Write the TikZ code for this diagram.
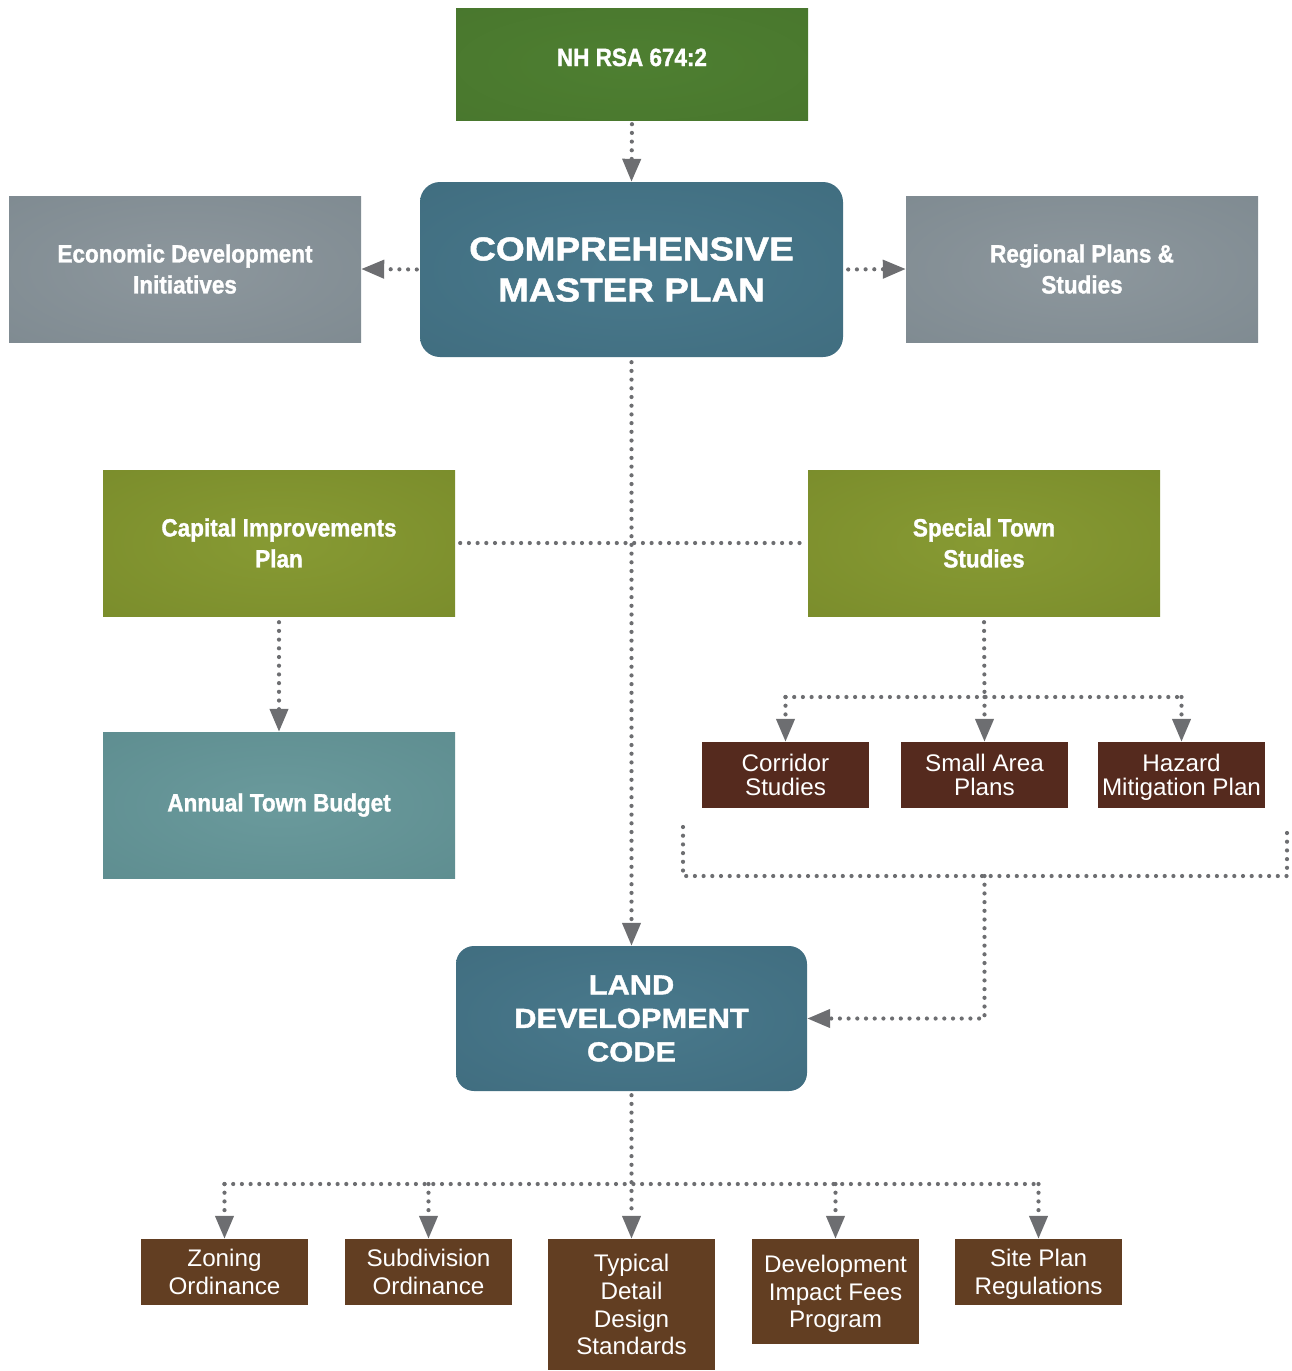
\documentclass[tikz,border=0pt]{standalone}
\usepackage{fontspec}
\setmainfont{Liberation Sans}
\newfontfamily\condf[FakeStretch=0.9,BoldFeatures={FakeBold=1.3}]{Liberation Sans}
\newfontfamily\heavyf[FakeStretch=1.12,BoldFeatures={FakeBold=1.4}]{Liberation Sans}
\newfontfamily\lightf[FakeStretch=1.01]{Liberation Sans}
\usetikzlibrary{arrows.meta}
\definecolor{nhin}{HTML}{4E7F31}
\definecolor{nhout}{HTML}{47742C}
\definecolor{cmpin}{HTML}{49798C}
\definecolor{cmpout}{HTML}{3D697B}
\definecolor{grayin}{HTML}{8D979D}
\definecolor{grayout}{HTML}{7A868D}
\definecolor{olivein}{HTML}{879A33}
\definecolor{oliveout}{HTML}{768829}
\definecolor{budin}{HTML}{6A9A9C}
\definecolor{budout}{HTML}{5A898C}
\definecolor{darkbrown}{HTML}{552A1E}
\definecolor{midbrown}{HTML}{623E22}
\definecolor{arrgray}{HTML}{6D6E71}
\pgfdeclareradialshading{nhshade}{\pgfpoint{0bp}{0bp}}{color(0bp)=(nhin);color(50bp)=(nhout)}
\pgfdeclareradialshading{cmpshade}{\pgfpoint{0bp}{0bp}}{color(0bp)=(cmpin);color(50bp)=(cmpout)}
\pgfdeclareradialshading{grayshade}{\pgfpoint{0bp}{0bp}}{color(0bp)=(grayin);color(50bp)=(grayout)}
\pgfdeclareradialshading{oliveshade}{\pgfpoint{0bp}{0bp}}{color(0bp)=(olivein);color(50bp)=(oliveout)}
\pgfdeclareradialshading{budshade}{\pgfpoint{0bp}{0bp}}{color(0bp)=(budin);color(50bp)=(budout)}
\begin{document}
\begin{tikzpicture}[x=1pt,y=-1pt,
  basebox/.style={inner sep=0pt, align=center, text=white},
  widebox/.style={basebox, minimum width=352pt, minimum height=146pt},
  condtext/.style={font={\condf\bfseries\fontsize{25}{31}\selectfont}},
  heavytext/.style={font={\heavyf\bfseries\fontsize{33}{41}\selectfont}},
  ldctext/.style={font={\heavyf\bfseries\fontsize{27.5}{33.5}\selectfont}},
  lighttext/.style={font={\lightf\fontsize{24}{23.5}\selectfont}},
  lighttextb/.style={font={\lightf\fontsize{24}{27.7}\selectfont}},
  graybox/.style={widebox, shading=grayshade, condtext},
  olivebox/.style={widebox, shading=oliveshade, condtext},
  smallbox/.style={basebox, minimum width=167pt, minimum height=66pt, fill=darkbrown, lighttext,
                   text depth=0pt},
  botbox/.style={basebox, minimum width=167pt, fill=midbrown, lighttextb, text depth=0pt},
  dotline/.style={draw=arrgray, line width=4.2pt, line cap=round, dash pattern=on 0pt off 8.7pt},
  arrowed/.style={dotline, -{Triangle[length=23pt,width=18pt]}, arrgray},
]
\useasboundingbox (0,0) rectangle (1292,1371);

% nodes
\node[basebox, minimum width=352pt, minimum height=112pt, shading=nhshade,
      condtext, text height=18pt, text depth=14pt] (nh) at (632,64) {NH RSA 674:2};
\node[basebox, minimum width=423pt, minimum height=175pt, rounded corners=20pt, shading=cmpshade,
      heavytext] (cmp) at (631.5,269.5) {COMPREHENSIVE\\MASTER PLAN};
\node[graybox] (econ) at (185,269) {Economic Development\\Initiatives};
\node[graybox] (reg) at (1082,269) {Regional Plans \&\\Studies};
\node[olivebox] (cap) at (279,543) {Capital Improvements\\Plan};
\node[olivebox] (spec) at (984,543) {Special Town\\Studies};
\node[widebox, shading=budshade, condtext] (bud) at (279,805) {Annual Town Budget};
\node[smallbox] (corr) at (785.5,775) {Corridor\\Studies};
\node[smallbox] (small) at (984.5,775) {Small Area\\Plans};
\node[smallbox] (haz) at (1181.5,775) {Hazard\\Mitigation Plan};
\node[basebox, minimum width=351pt, minimum height=145pt, rounded corners=18pt, shading=cmpshade,
      ldctext] (ldc) at (631.5,1018.5) {LAND\\DEVELOPMENT\\CODE};
\node[botbox, minimum height=66pt] (zon) at (224.5,1272) {Zoning\\Ordinance};
\node[botbox, minimum height=66pt] (sub) at (428.5,1272) {Subdivision\\Ordinance};
\node[botbox, minimum height=131pt] (typ) at (631.5,1304.5) {Typical\\Detail\\Design\\Standards};
\node[botbox, minimum height=105pt] (dev) at (835.5,1291.5) {Development\\Impact Fees\\Program};
\node[botbox, minimum height=66pt] (site) at (1038.5,1272) {Site Plan\\Regulations};

% coordinates
\coordinate (sbar) at (984.5,697);
\coordinate (bl) at (683,827);
\coordinate (br) at (1287,827);
\coordinate (bm) at (984.5,876);
\coordinate (lbar) at (631.5,1184);

% connectors
\draw[arrowed, shorten <=4pt] (nh.south) -- (cmp.north);
\draw[arrowed, shorten <=3pt] (cmp.west) -- (econ.east);
\draw[arrowed, shorten <=5pt] (cmp.east) -- (reg.west);
\draw[arrowed, shorten <=5pt] (cmp.south) -- (ldc.north);
\draw[dotline, shorten <=5pt, shorten >=3pt] (cap.east) -- (spec.west);
\draw[arrowed, shorten <=6pt] (cap.south) -- (bud.north);

\draw[dotline, shorten <=6pt] (spec.south) -- (sbar);
\draw[dotline] (corr.north |- sbar) -- (haz.north |- sbar);
\draw[arrowed] (corr.north |- sbar) -- (corr.north);
\draw[arrowed] (sbar) -- (small.north);
\draw[arrowed] (haz.north |- sbar) -- (haz.north);

\draw[dotline] (bl) -- (bl |- bm) -- (br |- bm) -- (br);
\draw[arrowed] (bm) |- (ldc.east);

\draw[arrowed, shorten <=4pt] (ldc.south) -- (typ.north);
\draw[dotline] (zon.north |- lbar) -- (site.north |- lbar);
\draw[arrowed] (zon.north |- lbar) -- (zon.north);
\draw[arrowed] (sub.north |- lbar) -- (sub.north);
\draw[arrowed] (dev.north |- lbar) -- (dev.north);
\draw[arrowed] (site.north |- lbar) -- (site.north);
\end{tikzpicture}
\end{document}
